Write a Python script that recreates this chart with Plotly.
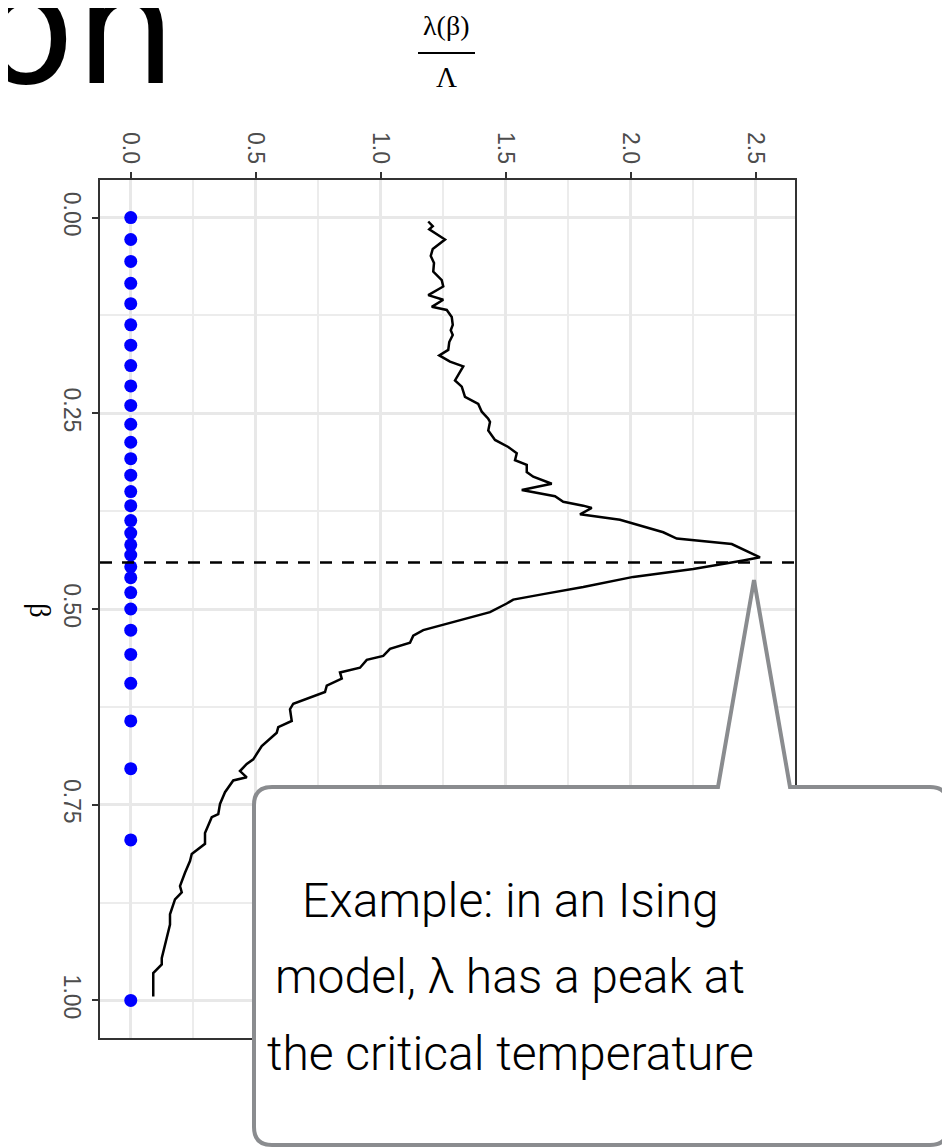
import plotly.graph_objects as go

# ---------------- data ----------------
beta_curve = [0.005, 0.011, 0.015, 0.028, 0.040, 0.049, 0.058, 0.069, 0.080, 0.088,
              0.099, 0.105, 0.114, 0.118, 0.127, 0.137, 0.144, 0.150, 0.159, 0.169,
              0.176, 0.184, 0.190, 0.208, 0.216, 0.229, 0.238, 0.248, 0.257, 0.261,
              0.272, 0.284, 0.293, 0.301, 0.310, 0.316, 0.325, 0.331, 0.340, 0.348,
              0.356, 0.363, 0.368, 0.371, 0.379, 0.386, 0.402, 0.410, 0.417, 0.434,
              0.438, 0.449, 0.459, 0.472, 0.481, 0.488, 0.493, 0.504, 0.527, 0.534,
              0.543, 0.551, 0.560, 0.565, 0.575, 0.581, 0.589, 0.598, 0.606, 0.621,
              0.628, 0.643, 0.651, 0.658, 0.675, 0.692, 0.698, 0.707, 0.715, 0.719,
              0.734, 0.749, 0.762, 0.766, 0.786, 0.800, 0.813, 0.822, 0.837, 0.854,
              0.862, 0.871, 0.890, 0.903, 0.946, 0.954, 0.965, 0.995]
lambda_ratio = [1.190, 1.208, 1.194, 1.257, 1.208, 1.200, 1.213, 1.210, 1.244, 1.250,
                1.190, 1.250, 1.204, 1.264, 1.284, 1.288, 1.280, 1.288, 1.274, 1.270,
                1.234, 1.277, 1.330, 1.297, 1.324, 1.337, 1.390, 1.404, 1.430, 1.437,
                1.430, 1.457, 1.510, 1.544, 1.537, 1.584, 1.584, 1.610, 1.684, 1.564,
                1.697, 1.730, 1.810, 1.844, 1.797, 1.957, 2.130, 2.184, 2.404, 2.517,
                2.450, 2.250, 2.010, 1.810, 1.650, 1.530, 1.504, 1.437, 1.170, 1.130,
                1.117, 1.037, 1.010, 0.944, 0.917, 0.837, 0.844, 0.784, 0.777, 0.650,
                0.637, 0.644, 0.590, 0.584, 0.524, 0.490, 0.464, 0.437, 0.464, 0.410,
                0.377, 0.357, 0.350, 0.324, 0.297, 0.297, 0.244, 0.237, 0.217, 0.197,
                0.204, 0.177, 0.157, 0.157, 0.124, 0.124, 0.090, 0.090]
beta_schedule = [0.0, 0.028, 0.056, 0.084, 0.110, 0.137, 0.163, 0.189, 0.215, 0.240,
                 0.264, 0.287, 0.308, 0.329, 0.350, 0.368, 0.387, 0.403, 0.418, 0.431,
                 0.446, 0.460, 0.479, 0.500, 0.527, 0.558, 0.595, 0.643, 0.704, 0.795, 1.0]
critical_beta = 0.4407

x_ticks = [0.0, 0.5, 1.0, 1.5, 2.0, 2.5]
x_ticklabels = ["0.0", "0.5", "1.0", "1.5", "2.0", "2.5"]
y_ticks = [0.0, 0.25, 0.5, 0.75, 1.0]
y_ticklabels = ["0.00", "0.25", "0.50", "0.75", "1.00"]

callout_lines = ["Example: in an Ising", "model, λ has a peak at", "the critical temperature"]

# ---------------- figure ----------------
W, H = 950, 1148
OFF = 8                      # page body margin of the html
L, R, T, B = 92, 163, 172, 118
pw, ph = W - L - R, H - T - B


def px(Xs):                  # screen x -> paper
    return (Xs - OFF - L) / pw


def py(Ys):                  # screen y -> paper
    return (H - B - (Ys - OFF)) / ph


fig = go.Figure()
fig.add_trace(go.Scatter(x=lambda_ratio, y=beta_curve, mode="lines",
                         line=dict(color="black", width=2.5), hoverinfo="skip"))
fig.add_trace(go.Scatter(x=[0.0] * len(beta_schedule), y=beta_schedule, mode="markers",
                         marker=dict(color="#0000ff", size=13, line=dict(width=0)),
                         hoverinfo="skip"))

# dashed critical line
fig.add_shape(type="line", xref="x domain", yref="y", x0=0, x1=1,
              y0=critical_beta, y1=critical_beta, layer="above",
              line=dict(color="black", width=2.5, dash="12px,10px"))

# callout box with pointer
r = 18
bx0, bx1, by0, by1 = 254, 948, 787, 1145
p0, ptip_x, ptip_y, p1 = 718, 754, 580, 790
path = (f"M {px(bx0 + r)},{py(by0)} L {px(p0)},{py(by0)} L {px(ptip_x)},{py(ptip_y)} "
        f"L {px(p1)},{py(by0)} L {px(bx1 - r)},{py(by0)} "
        f"Q {px(bx1)},{py(by0)} {px(bx1)},{py(by0 + r)} L {px(bx1)},{py(by1 - r)} "
        f"Q {px(bx1)},{py(by1)} {px(bx1 - r)},{py(by1)} L {px(bx0 + r)},{py(by1)} "
        f"Q {px(bx0)},{py(by1)} {px(bx0)},{py(by1 - r)} L {px(bx0)},{py(by0 + r)} "
        f"Q {px(bx0)},{py(by0)} {px(bx0 + r)},{py(by0)} Z")
fig.add_shape(type="path", xref="paper", yref="paper", path=path, layer="above",
              fillcolor="white", line=dict(color="#8a8c8f", width=4))

# fraction bar of the x-axis title
fig.add_shape(type="line", xref="paper", yref="paper", x0=px(418), x1=px(475),
              y0=py(53), y1=py(53), line=dict(color="black", width=2))

serif = "Liberation Serif, Times New Roman, serif"
sans = "Liberation Sans, Arial, Helvetica, sans-serif"

annotations = [
    dict(text="λ(β)", x=px(446), y=py(26), xref="paper", yref="paper", showarrow=False,
         font=dict(family=serif, size=28, color="black"), xanchor="center", yanchor="middle"),
    dict(text="Λ", x=px(446), y=py(77), xref="paper", yref="paper", showarrow=False,
         font=dict(family=serif, size=29, color="black"), xanchor="center", yanchor="middle"),
    dict(text="β", x=px(40), y=py(610), xref="paper", yref="paper", showarrow=False,
         textangle=90, font=dict(family=serif, size=29, color="black"),
         xanchor="center", yanchor="middle"),
    dict(text="on", x=px(178), y=py(27), xref="paper", yref="paper", showarrow=False,
         font=dict(family="DejaVu Sans, sans-serif", size=160, color="black"),
         xanchor="right", yanchor="middle"),
]
for line_text, yc in zip(callout_lines, [900, 976, 1053]):
    annotations.append(dict(text=line_text, x=px(510), y=py(yc), xref="paper", yref="paper",
                            showarrow=False,
                            font=dict(family="Roboto, sans-serif", size=48, color="black",
                                      weight=300),
                            xanchor="center", yanchor="middle"))

axis_common = dict(
    ticks="outside", ticklen=6, tickwidth=2, tickcolor="#333333",
    tickfont=dict(family=sans, size=23, color="#4d4d4d"),
    showgrid=True, gridcolor="#e8e8e8", gridwidth=2.5,
    showline=True, linecolor="#333333", linewidth=2, mirror=True,
    zeroline=False, tickangle=90,
)

fig.update_layout(
    width=W, height=H,
    margin=dict(l=L, r=R, t=T, b=B, pad=0),
    paper_bgcolor="white", plot_bgcolor="white",
    showlegend=False,
    xaxis=dict(side="top", range=[-0.123, 2.657], tickvals=x_ticks, ticktext=x_ticklabels,
               minor=dict(dtick=0.25, tick0=0, showgrid=True, gridcolor="#ececec",
                          gridwidth=1.5, ticks=""),
               **axis_common),
    yaxis=dict(range=[1.048, -0.048], tickvals=y_ticks, ticktext=y_ticklabels,
               minor=dict(dtick=0.125, tick0=0, showgrid=True, gridcolor="#ececec",
                          gridwidth=1.5, ticks=""),
               **axis_common),
    annotations=annotations,
)

fig.write_html("out.html")
